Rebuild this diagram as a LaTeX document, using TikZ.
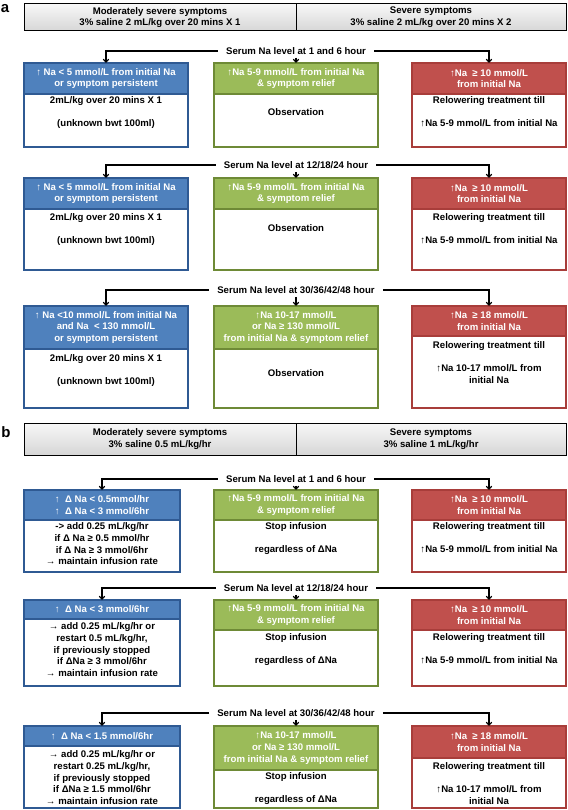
\documentclass[tikz,border=0pt]{standalone}
\usepackage{fontspec}
\setmainfont{Liberation Sans}
\usetikzlibrary{arrows.meta}
\definecolor{blueF}{HTML}{4F81BD}
\definecolor{blueD}{HTML}{2F5A93}
\definecolor{greenF}{HTML}{9BBB59}
\definecolor{greenD}{HTML}{6E8A36}
\definecolor{redF}{HTML}{C0504D}
\definecolor{redD}{HTML}{A83D3A}
\newcommand\hfont{\fontsize{9.6}{11.7}\selectfont\bfseries}
% frame + header: name, colour, x1, x2, top, header bottom, bottom, header text
\newcommand\fbx[8]{%
 \node[frame, draw=#2D, minimum width={(#4-#3)*1pt}, minimum height={(#7-#5)*1pt}] (#1) at (#3,#5) {};
 \node[hdr, fill=#2F, draw=#2D, minimum width={(#4-#3)*1pt}, minimum height={(#6-#5)*1pt}] (#1h) at (#3,#5) {#8};
}
% row label and its two outer connectors
\newcommand\arow[5]{%
 \node[lab] (#1) at (296,#2) {#3};
 \draw[conn] (#1.west) -| (#4h.north);
 \draw[conn] (#1.east) -| (#5h.north);
}
\begin{document}
\begin{tikzpicture}[x=1pt,y=-1pt,
  frame/.style={anchor=north west, line width=1.6pt, fill=white, inner sep=0pt, outer sep=0pt},
  hdr/.style={anchor=north west, line width=1.6pt, inner sep=1pt, outer sep=0pt, text=white, align=center, font=\hfont},
  bodytext/.style={anchor=north, align=center, inner sep=0pt, font=\hfont},
  lab/.style={inner xsep=8pt, inner ysep=3pt, font=\hfont},
  conn/.style={line width=1.1pt, -{Straight Barb[length=3pt,width=5.5pt]}},
  bar/.style={anchor=north west, draw=black, line width=1pt, top color=gray!6, bottom color=gray!32, align=center, font=\hfont, inner sep=0pt, outer sep=0pt},
  panel/.style={font=\fontsize{15}{15}\selectfont\bfseries, inner sep=0pt}]
\useasboundingbox (0,0) rectangle (567,810);
\fill[white] (0,0) rectangle (567,810);

% ================= panel a =================
\node[panel] (pa) at (5,9) {a};
\node[bar, minimum width=272pt, minimum height=27pt] (ha1) at (24,4) {Moderately severe symptoms\\3\% saline 2 mL/kg over 20 mins X 1};
\node[bar, minimum width=270pt, minimum height=27pt] (ha2) at (296,4) {Severe symptoms\\3\% saline 2 mL/kg over 20 mins X 2};

% row a1
\fbx{a1b}{blue}{24}{188}{63}{94}{147}{↑ Na < 5 mmol/L from initial Na\\or symptom persistent}
\fbx{a1g}{green}{214}{378}{63}{94}{147}{↑Na 5-9 mmol/L from initial Na\\\& symptom relief}
\fbx{a1r}{red}{412}{566}{63}{94}{147}{↑Na \ ≥ 10 mmol/L\\from initial Na}
\node[bodytext] (a1bt) at (106,96.5) {2mL/kg over 20 mins X 1\\[11.4pt](unknown bwt 100ml)};
\node[bodytext] (a1gt) at (296,108.5) {Observation};
\node[bodytext] (a1rt) at (489,96.5) {Relowering treatment till\\[11.4pt]↑Na 5-9 mmol/L from initial Na};
\arow{la1}{51}{Serum Na level at 1 and 6 hour}{a1b}{a1r}
\draw[conn] (la1.south) -- (a1gh.north);

% row a2
\fbx{a2b}{blue}{24}{188}{178}{209}{270}{↑ Na < 5 mmol/L from initial Na\\or symptom persistent}
\fbx{a2g}{green}{214}{378}{178}{209}{270}{↑Na 5-9 mmol/L from initial Na\\\& symptom relief}
\fbx{a2r}{red}{412}{566}{178}{209}{270}{↑Na \ ≥ 10 mmol/L\\from initial Na}
\node[bodytext] (a2bt) at (106,213.5) {2mL/kg over 20 mins X 1\\[11.4pt](unknown bwt 100ml)};
\node[bodytext] (a2gt) at (296,224.5) {Observation};
\node[bodytext] (a2rt) at (489,213.5) {Relowering treatment till\\[11.4pt]↑Na 5-9 mmol/L from initial Na};
\arow{la2}{165}{Serum Na level at 12/18/24 hour}{a2b}{a2r}
\draw[conn] (la2.south) -- (a2gh.north);

% row a3
\fbx{a3b}{blue}{24}{188}{306}{349}{408}{↑ Na <10 mmol/L from initial Na\\and Na \ < 130 mmol/L\\or symptom persistent}
\fbx{a3g}{green}{214}{378}{306}{349}{408}{↑Na 10-17 mmol/L\\or Na ≥ 130 mmol/L\\from initial Na \& symptom relief}
\fbx{a3r}{red}{412}{566}{306}{336}{408}{↑Na \ ≥ 18 mmol/L\\from initial Na}
\node[bodytext] (a3bt) at (106,354.5) {2mL/kg over 20 mins X 1\\[11.4pt](unknown bwt 100ml)};
\node[bodytext] (a3gt) at (296,369.5) {Observation};
\node[bodytext] (a3rt) at (489,341.5) {Relowering treatment till\\[11.4pt]↑Na 10-17 mmol/L from\\initial Na};
\arow{la3}{290}{Serum Na level at 30/36/42/48 hour}{a3b}{a3r}
\draw[conn] (la3.south) -- (a3gh.north);

% ================= panel b =================
\node[panel] (pb) at (6,432) {b};
\node[bar, minimum width=272pt, minimum height=32pt] (hb1) at (24,423) {Moderately severe symptoms\\3\% saline 0.5 mL/kg/hr};
\node[bar, minimum width=270pt, minimum height=32pt] (hb2) at (296,423) {Severe symptoms\\3\% saline 1 mL/kg/hr};

% row b1
\fbx{b1b}{blue}{24}{180}{490}{520}{572}{↑ \ Δ Na < 0.5mmol/hr\\↑ \ Δ Na < 3 mmol/6hr}
\fbx{b1g}{green}{214}{378}{490}{520}{572}{↑Na 5-9 mmol/L from initial Na\\\& symptom relief}
\fbx{b1r}{red}{412}{566}{490}{520}{572}{↑Na \ ≥ 10 mmol/L\\from initial Na}
\node[bodytext] (b1bt) at (102,522.5) {-> add 0.25 mL/kg/hr\\if Δ Na ≥ 0.5 mmol/hr\\if Δ Na ≥ 3 mmol/6hr\\→ maintain infusion rate};
\node[bodytext] (b1gt) at (296,522.5) {Stop infusion\\[11.4pt]regardless of ΔNa};
\node[bodytext] (b1rt) at (489,522.5) {Relowering treatment till\\[11.4pt]↑Na 5-9 mmol/L from initial Na};
\arow{lb1}{479}{Serum Na level at 1 and 6 hour}{b1b}{b1r}
\draw[conn] (lb1.south) -- (b1gh.north);

% row b2
\fbx{b2b}{blue}{24}{180}{600}{619}{686}{↑ \ Δ Na < 3 mmol/6hr}
\fbx{b2g}{green}{214}{378}{600}{630}{686}{↑Na 5-9 mmol/L from initial Na\\\& symptom relief}
\fbx{b2r}{red}{412}{566}{600}{630}{686}{↑Na \ ≥ 10 mmol/L\\from initial Na}
\node[bodytext] (b2bt) at (102,622.5) {→ add 0.25 mL/kg/hr or\\restart 0.5 mL/kg/hr,\\if previously stopped\\if ΔNa ≥ 3 mmol/6hr\\→ maintain infusion rate};
\node[bodytext] (b2gt) at (296,633.5) {Stop infusion\\[11.4pt]regardless of ΔNa};
\node[bodytext] (b2rt) at (489,633.5) {Relowering treatment till\\[11.4pt]↑Na 5-9 mmol/L from initial Na};
\arow{lb2}{588}{Serum Na level at 12/18/24 hour}{b2b}{b2r}
\draw[conn] (lb2.south) -- (b2gh.north);

% row b3
\fbx{b3b}{blue}{24}{180}{726}{746}{808}{↑ \ Δ Na < 1.5 mmol/6hr}
\fbx{b3g}{green}{214}{378}{726}{770}{808}{↑Na 10-17 mmol/L\\or Na ≥ 130 mmol/L\\from initial Na \& symptom relief}
\fbx{b3r}{red}{412}{566}{726}{758}{808}{↑Na \ ≥ 18 mmol/L\\from initial Na}
\node[bodytext] (b3bt) at (102,750.5) {→ add 0.25 mL/kg/hr or\\restart 0.25 mL/kg/hr,\\if previously stopped\\if ΔNa ≥ 1.5 mmol/6hr\\→ maintain infusion rate};
\node[bodytext] (b3gt) at (296,772.5) {Stop infusion\\[11.4pt]regardless of ΔNa};
\node[bodytext] (b3rt) at (489,762.5) {Relowering treatment till\\[11.4pt]↑Na 10-17 mmol/L from\\initial Na};
\arow{lb3}{713}{Serum Na level at 30/36/42/48 hour}{b3b}{b3r}
\draw[conn] (lb3.south) -- (b3gh.north);
\end{tikzpicture}
\end{document}
